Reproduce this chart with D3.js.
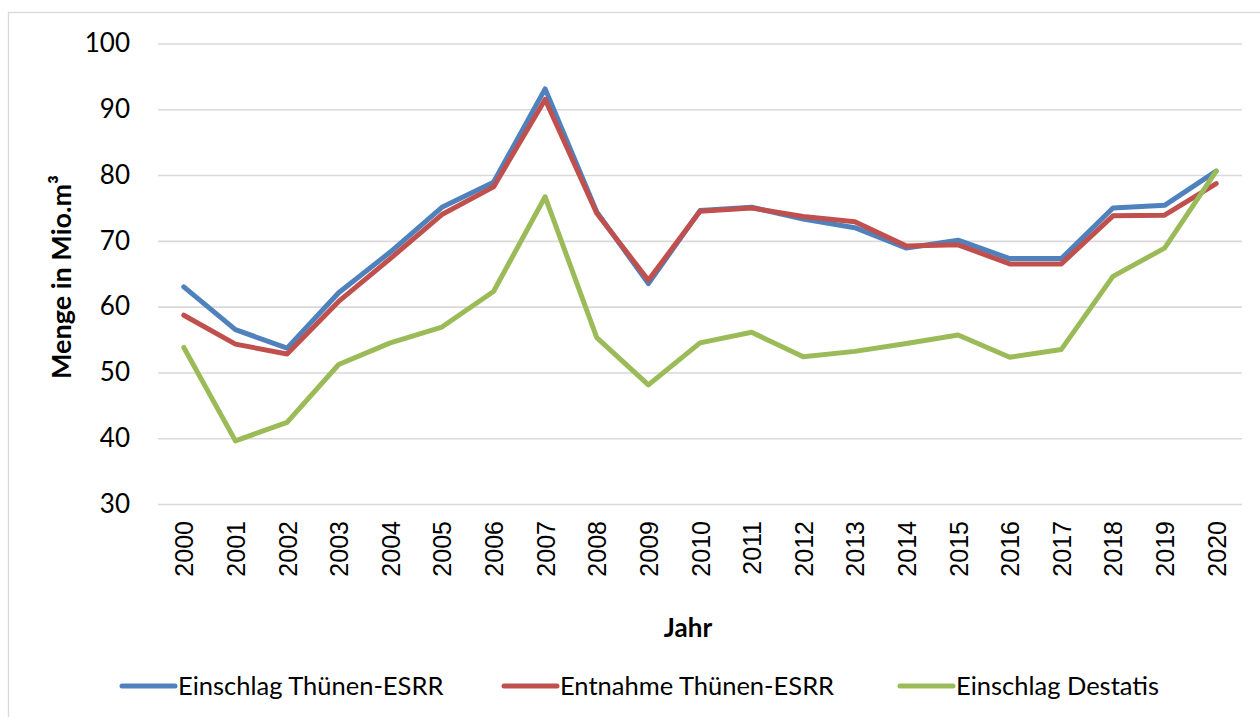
<!DOCTYPE html>
<html>
<head>
<meta charset="utf-8">
<script src="https://cdn.jsdelivr.net/npm/d3@7"></script>
<style>
  body { margin: 0; background: #fff; }
  svg { display: block; }
</style>
</head>
<body>
<svg id="chart" width="1260" height="717"></svg>
<script>
// data
const years = ["2000","2001","2002","2003","2004","2005","2006","2007","2008","2009","2010",
  "2011","2012","2013","2014","2015","2016","2017","2018","2019","2020"];

const einschlagThuenen = [63.0, 56.5, 53.7, 62.1, 68.3, 75.1, 78.9, 93.1, 74.4, 63.5, 74.6,
  75.1, 73.3, 72.0, 68.9, 70.1, 67.3, 67.3, 75.0, 75.4, 80.6];
const entnahmeThuenen = [58.7, 54.3, 52.8, 60.8, 67.3, 74.0, 78.2, 91.5, 74.2, 64.0, 74.5,
  75.0, 73.7, 72.9, 69.2, 69.4, 66.5, 66.5, 73.8, 73.9, 78.7];
const einschlagDestatis = [53.8, 39.6, 42.4, 51.2, 54.5, 56.9, 62.3, 76.7, 55.3, 48.1, 54.5,
  56.1, 52.4, 53.2, 54.4, 55.7, 52.3, 53.5, 64.6, 68.9, 80.6];

const yTicks = [30, 40, 50, 60, 70, 80, 90, 100];

const seriesNames = ["Einschlag Thünen-ESRR", "Entnahme Thünen-ESRR", "Einschlag Destatis"];
const seriesColors = ["#4F81BD", "#C0504D", "#9BBB59"];

const series = [einschlagThuenen, entnahmeThuenen, einschlagDestatis].map((vals, i) => ({
  name: seriesNames[i],
  color: seriesColors[i],
  values: vals.map((v, j) => ({ year: years[j], value: v }))
}));

const svg = d3.select("#chart");

// outer chart frame
svg.append("rect")
  .attr("x", 8.5).attr("y", 12.5)
  .attr("width", 1262).attr("height", 720)
  .attr("fill", "none")
  .attr("stroke", "#d9d9d9")
  .attr("stroke-width", 1.3);

const plot = { left: 158, right: 1242, top: 43.5, bottom: 504 };

const x = d3.scalePoint()
  .domain(years)
  .range([plot.left, plot.right])
  .padding(0.5);

const y = d3.scaleLinear()
  .domain([30, 100])
  .range([plot.bottom, plot.top]);

// gridlines + y labels
const yAxis = d3.axisLeft(y)
  .tickValues(yTicks)
  .tickSize(-(plot.right - plot.left))
  .tickPadding(28);

svg.append("g")
  .attr("class", "y-axis")
  .attr("transform", `translate(${plot.left},0)`)
  .call(yAxis)
  .call(g => g.select(".domain").remove())
  .call(g => g.selectAll("line").attr("stroke", "#d9d9d9").attr("stroke-width", 1.6))
  .call(g => g.selectAll("text")
    .attr("fill", "#000")
    .style("font-family", "Lato, 'Open Sans', sans-serif")
    .style("font-size", "26px"));

// x labels, rotated
const xAxis = d3.axisBottom(x).tickSize(0).tickPadding(0);

svg.append("g")
  .attr("class", "x-axis")
  .attr("transform", `translate(0,${plot.bottom})`)
  .call(xAxis)
  .call(g => g.select(".domain").remove())
  .call(g => g.selectAll("text")
    .attr("fill", "#000")
    .attr("transform", "rotate(-90)")
    .attr("x", -17)
    .attr("y", 0)
    .attr("dy", "0.36em")
    .style("text-anchor", "end")
    .style("font-family", "'Liberation Sans', Arial, sans-serif")
    .style("font-size", "25px"));

// lines
const lineGen = d3.line()
  .x(d => x(d.year))
  .y(d => y(d.value));

svg.append("g")
  .selectAll("path")
  .data(series)
  .join("path")
    .attr("d", d => lineGen(d.values))
    .attr("fill", "none")
    .attr("stroke", d => d.color)
    .attr("stroke-width", 5)
    .attr("stroke-linejoin", "round")
    .attr("stroke-linecap", "round");

// axis titles
svg.append("text")
  .attr("transform", "translate(71,277) rotate(-90)")
  .attr("text-anchor", "middle")
  .style("font-family", "Lato, 'Open Sans', sans-serif")
  .style("font-weight", "bold")
  .style("font-size", "27px")
  .text("Menge in Mio.m³");

svg.append("text")
  .attr("x", 688)
  .attr("y", 637)
  .attr("text-anchor", "middle")
  .style("font-family", "Lato, 'Open Sans', sans-serif")
  .style("font-weight", "bold")
  .style("font-size", "26px")
  .text("Jahr");

// legend
const legendX = [120, 502, 898];
const legend = svg.append("g")
  .selectAll("g")
  .data(series)
  .join("g")
    .attr("transform", (d, i) => `translate(${legendX[i]},686)`);

legend.append("line")
  .attr("x1", 2).attr("x2", 55)
  .attr("stroke", d => d.color)
  .attr("stroke-width", 5)
  .attr("stroke-linecap", "round");

legend.append("text")
  .attr("x", 58)
  .attr("dy", "0.35em")
  .style("font-family", "Lato, 'Open Sans', sans-serif")
  .style("font-size", "25.5px")
  .text(d => d.name);
</script>
</body>
</html>
